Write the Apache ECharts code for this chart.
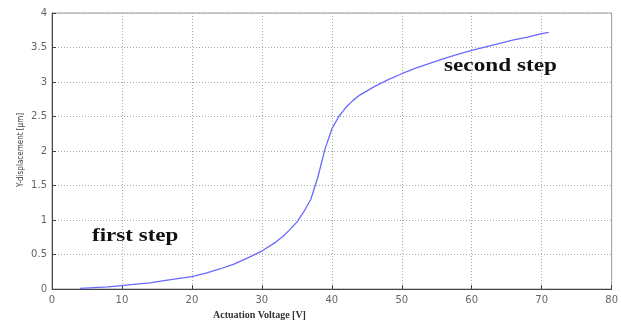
<!DOCTYPE html>
<html>
<head>
<meta charset="utf-8">
<script src="https://cdn.jsdelivr.net/npm/echarts@6/dist/echarts.min.js"></script>
<style>html,body{margin:0;padding:0;background:#fff}#c{width:621px;height:320px}</style>
</head>
<body>
<div id="c"></div>
<script>
const voltage = [4, 6, 8, 10, 12, 14, 16, 18, 20, 22, 24, 26, 28, 30, 32, 33, 34, 35, 36, 37, 38, 39, 40, 41, 42, 43, 44, 46, 48, 50, 52, 54, 56, 58, 60, 62, 64, 66, 68, 70, 71];
const displacement = [0.01, 0.02, 0.03, 0.05, 0.07, 0.09, 0.12, 0.15, 0.18, 0.23, 0.29, 0.36, 0.45, 0.55, 0.68, 0.76, 0.86, 0.97, 1.12, 1.30, 1.62, 2.02, 2.32, 2.50, 2.63, 2.73, 2.81, 2.93, 3.03, 3.12, 3.20, 3.27, 3.34, 3.40, 3.46, 3.51, 3.56, 3.61, 3.65, 3.70, 3.72];
const xTicks = [0, 10, 20, 30, 40, 50, 60, 70, 80];
const yTicks = [0, 0.5, 1, 1.5, 2, 2.5, 3, 3.5, 4];
const annotations = ["first step", "second step"];
const yAxisTitle = 'Y-displacement [\u03bcm]';

const chart = echarts.init(document.getElementById('c'), null, {renderer: 'canvas'});
const pts = voltage.map((v, i) => [v, displacement[i]]);
const grid = {left: 52, right: 8, top: 13, bottom: 29};
const tickFont = {color: '#666', fontSize: 10, fontFamily: 'DejaVu Sans'};
chart.setOption({
  animation: false,
  grid: Object.assign({show: true, borderColor: '#999', borderWidth: 1, backgroundColor: '#fff'}, grid),
  xAxis: {
    type: 'value', min: xTicks[0], max: xTicks[xTicks.length - 1], interval: 10,
    name: 'Actuation Voltage [V]', nameLocation: 'start', nameGap: 0,
    nameTextStyle: {color: '#333', fontSize: 10, fontFamily: 'Liberation Serif', fontWeight: 'bold', align: 'left', verticalAlign: 'top', padding: [21, 0, 0, 161]},
    axisLine: {lineStyle: {color: '#444', width: 1}},
    axisTick: {show: true, inside: true, length: 4, lineStyle: {color: '#444'}},
    axisLabel: Object.assign({margin: 6}, tickFont),
    splitLine: {show: true, lineStyle: {color: '#aaa', type: [1, 2], width: 1}}
  },
  yAxis: {
    type: 'value', min: yTicks[0], max: yTicks[yTicks.length - 1], interval: 0.5,
    axisLine: {lineStyle: {color: '#444', width: 1}},
    axisTick: {show: true, inside: true, length: 4, lineStyle: {color: '#444'}},
    axisLabel: Object.assign({margin: 5}, tickFont),
    splitLine: {show: true, lineStyle: {color: '#aaa', type: [1, 2], width: 1}}
  },
  series: [{
    type: 'line', data: pts, showSymbol: false, smooth: false,
    lineStyle: {color: '#6a6aff', width: 1.3}
  }],
  graphic: [
    {type: 'text', x: 21, y: 150, rotation: Math.PI / 2, style: {text: yAxisTitle, font: '8px "DejaVu Sans Condensed"', fill: '#444', align: 'center', verticalAlign: 'middle'}},
    {type: 'text', x: 92, y: 227, scaleX: 1.28, style: {text: annotations[0], font: 'bold 18px "Liberation Serif"', fill: '#111', textVerticalAlign: 'top'}},
    {type: 'text', x: 444, y: 57, scaleX: 1.29, style: {text: annotations[1], font: 'bold 18px "Liberation Serif"', fill: '#111', textVerticalAlign: 'top'}}
  ]
});
</script>
</body>
</html>
